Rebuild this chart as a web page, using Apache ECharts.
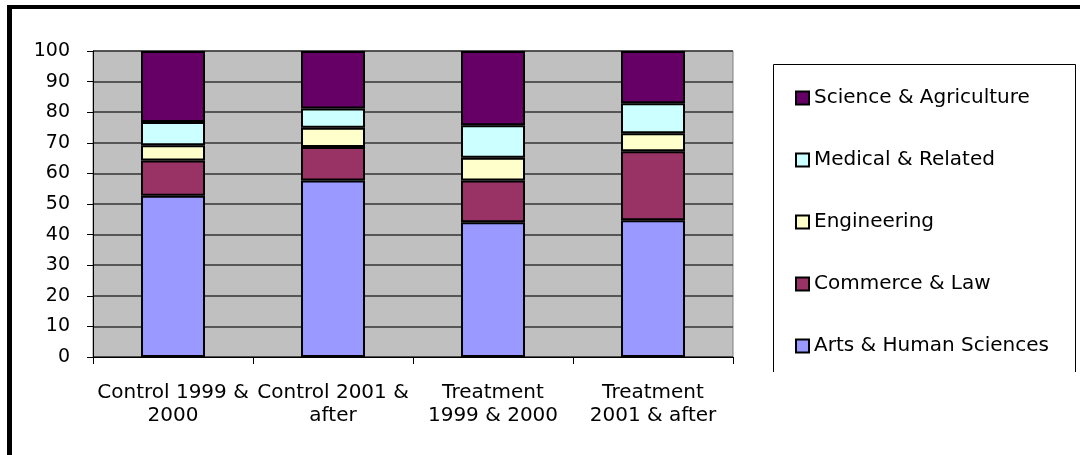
<!DOCTYPE html>
<html>
<head>
<meta charset="utf-8">
<script src="https://cdn.jsdelivr.net/npm/echarts@6/dist/echarts.min.js"></script>
<style>
  html, body { margin: 0; padding: 0; background: #fff; }
  #chart { width: 1080px; height: 455px; }
</style>
</head>
<body>
<div id="chart"></div>
<script>
// categories on the x axis
var groups = ['Control 1999 &\n2000', 'Control 2001 &\nafter', 'Treatment\n1999 & 2000', 'Treatment\n2001 & after'];

// percentage of each faculty
var arts = [52.7, 57.7, 44.0, 44.7];
var commerce = [11.5, 10.9, 13.7, 22.5];
var engineering = [5.0, 6.3, 7.4, 5.9];
var medical = [7.6, 6.3, 10.6, 9.8];
var science = [23.2, 18.8, 24.3, 17.1];

var names = ['Arts & Human Sciences', 'Commerce & Law', 'Engineering', 'Medical & Related', 'Science & Agriculture'];
var colors = ['#9999FF', '#993366', '#FFFFCC', '#CCFFFF', '#660066'];
var values = [arts, commerce, engineering, medical, science];

var font = 'DejaVu Sans, Verdana, sans-serif';
var chart = echarts.init(document.getElementById('chart'));

var series = [];
for (var i = 0; i < names.length; i++) {
	series.push({
		name: names[i],
		type: 'bar',
		stack: 'total',
		barWidth: 64,
		data: values[i],
		itemStyle: {
			color: colors[i],
			borderColor: '#000',
			borderWidth: 2
		}
	});
}

chart.setOption({
	animation: false,
	backgroundColor: '#fff',
	grid: {
		left: 93,
		right: 347,
		top: 51,
		bottom: 98,
		show: true,
		backgroundColor: '#C0C0C0',
		borderColor: '#808080',
		borderWidth: 1
	},
	legend: {
		orient: 'vertical',
		left: 795,
		top: 88,
		padding: 0,
		itemWidth: 13,
		itemHeight: 13,
		itemGap: 42,
		icon: 'rect',
		data: names.slice().reverse(),
		textStyle: { fontFamily: font, fontSize: 20, color: '#000' }
	},
	xAxis: {
		type: 'category',
		data: groups,
		axisLine: { lineStyle: { color: '#000', width: 1 } },
		axisTick: { show: true, length: 7, lineStyle: { color: '#000' } },
		axisLabel: {
			interval: 0,
			margin: 24,
			fontFamily: font,
			fontSize: 20,
			lineHeight: 23,
			color: '#000',
			align: 'center'
		}
	},
	yAxis: {
		type: 'value',
		min: 0,
		max: 100,
		interval: 10,
		axisLine: { show: true, lineStyle: { color: '#000', width: 1 } },
		axisTick: { show: true, length: 6, lineStyle: { color: '#000' } },
		axisLabel: { margin: 23, fontFamily: font, fontSize: 19, color: '#000' },
		splitLine: { lineStyle: { color: '#333', width: 1.5 } }
	},
	graphic: [
		// outer frame (top and left edges)
		{ type: 'rect', shape: { x: 7, y: 5, width: 1073, height: 4 }, style: { fill: '#000' } },
		{ type: 'rect', shape: { x: 7, y: 5, width: 5, height: 450 }, style: { fill: '#000' } },
		// legend box, open at the bottom
		{
			type: 'polyline',
			shape: { points: [[773.5, 372], [773.5, 64.5], [1075.5, 64.5], [1075.5, 372]] },
			style: { stroke: '#000', lineWidth: 1, fill: null }
		}
	],
	series: series
});
</script>
</body>
</html>
